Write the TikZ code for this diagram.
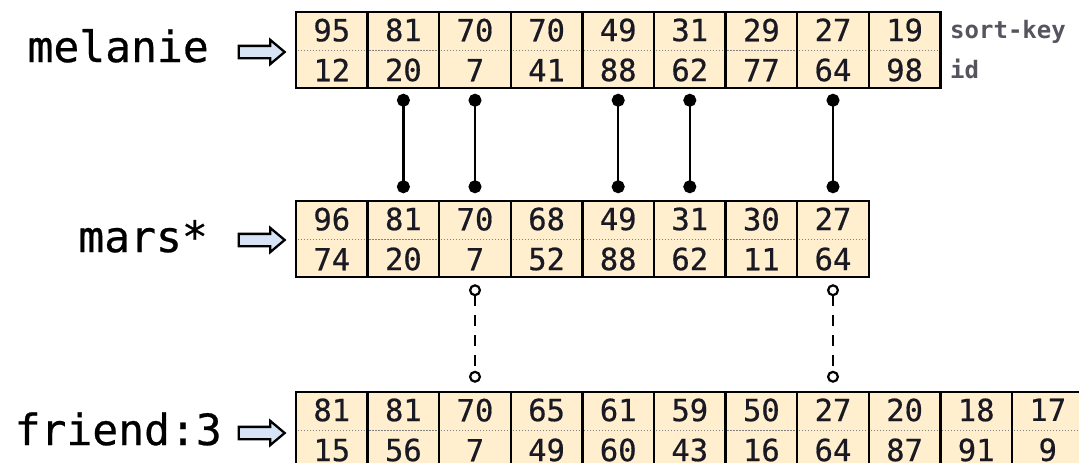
\documentclass[tikz,border=0pt]{standalone}
\usepackage{fontspec}
\newfontfamily\codefont[FakeBold=0.6]{DejaVu Sans Mono}
\newfontfamily\keyfont{DejaVu Sans Mono}
\usetikzlibrary{shapes.arrows,arrows.meta}
\definecolor{cellfill}{RGB}{255,239,206}
\definecolor{arrowfill}{RGB}{214,228,245}
\definecolor{keygray}{RGB}{85,85,95}
\definecolor{numcol}{RGB}{25,25,35}
\begin{document}
\begin{tikzpicture}[x=1pt,y=-1pt,
  cell/.style={draw=black, line width=2.5pt, fill=cellfill, minimum width=71.6pt,
    minimum height=76pt, inner sep=0pt, align=center, text=numcol,
    font=\codefont\fontsize{30.5}{40}\selectfont},
  rowlabel/.style={font=\codefont\fontsize{43}{43}\selectfont, anchor=base east, inner sep=0pt},
  keylabel/.style={font=\keyfont\bfseries\fontsize{24}{24}\selectfont, text=keygray, anchor=base west, inner sep=0pt},
  ptr/.style={single arrow, draw=black, line width=2.3pt, fill=arrowfill, minimum height=46pt,
    single arrow head extend=6pt, inner sep=0pt, inner ysep=5pt, single arrow tip angle=80},
  midline/.style={draw=gray, line width=0.9pt, dash pattern=on 1.2pt off 1.8pt},
  solidlink/.style={line width=2.2pt, {Circle[length=13pt]}-{Circle[length=13pt]}},
  dashlink/.style={line width=2pt, dash pattern=on 11pt off 9pt, {Circle[open,length=12pt,line width=2.2pt]}-{Circle[open,length=12pt,line width=2.2pt]}}
]
\useasboundingbox (0,0) rectangle (1079,463);
\clip (0,0) rectangle (1079,463);

% labels
\node[rowlabel] (lmel) at (209,62) {melanie};
\node[rowlabel] (lmar) at (208,252) {mars*};
\node[rowlabel] (lfri) at (222,445) {friend:3};

% pointer arrows
\node[ptr] (amel) at (258,52) {};
\node[ptr] (amar) at (258,240) {};
\node[ptr] (afri) at (258,433) {};

% melanie row
\foreach \a/\b [count=\i] in {95/12,81/20,70/7,70/41,49/88,31/62,29/77,27/64,19/98}
  \node[cell] (m\i) at ({296+71.6*(\i-0.5)},50) {\a\\\b};
\foreach \i in {1,...,9}
  \draw[midline] ([xshift=3pt]m\i.west) -- ([xshift=-3pt]m\i.east);

% mars row
\foreach \a/\b [count=\i] in {96/74,81/20,70/7,68/52,49/88,31/62,30/11,27/64}
  \node[cell] (r\i) at ({296+71.6*(\i-0.5)},239) {\a\\\b};
\foreach \i in {1,...,8}
  \draw[midline] ([xshift=3pt]r\i.west) -- ([xshift=-3pt]r\i.east);

% friend row
\foreach \a/\b [count=\i] in {81/15,81/56,70/7,65/49,61/60,59/43,50/16,27/64,20/87,18/91,17/9}
  \node[cell] (f\i) at ({296+71.6*(\i-0.5)},430) {\a\\\b};
\foreach \i in {1,...,11}
  \draw[midline] ([xshift=3pt]f\i.west) -- ([xshift=-3pt]f\i.east);

% key labels
\node[keylabel] (ksort) at (950,38) {sort-key};
\node[keylabel] (kid) at (950,78) {id};

% connectors
\foreach \i in {2,3,5,6,8}
  \draw[solidlink] ([yshift=-4.5pt]m\i.south) -- ([yshift=6.5pt]r\i.north);
\foreach \i in {3,8}
  \draw[dashlink] ([yshift=-6pt]r\i.south) -- ([yshift=8pt]f\i.north);
\end{tikzpicture}
\end{document}
